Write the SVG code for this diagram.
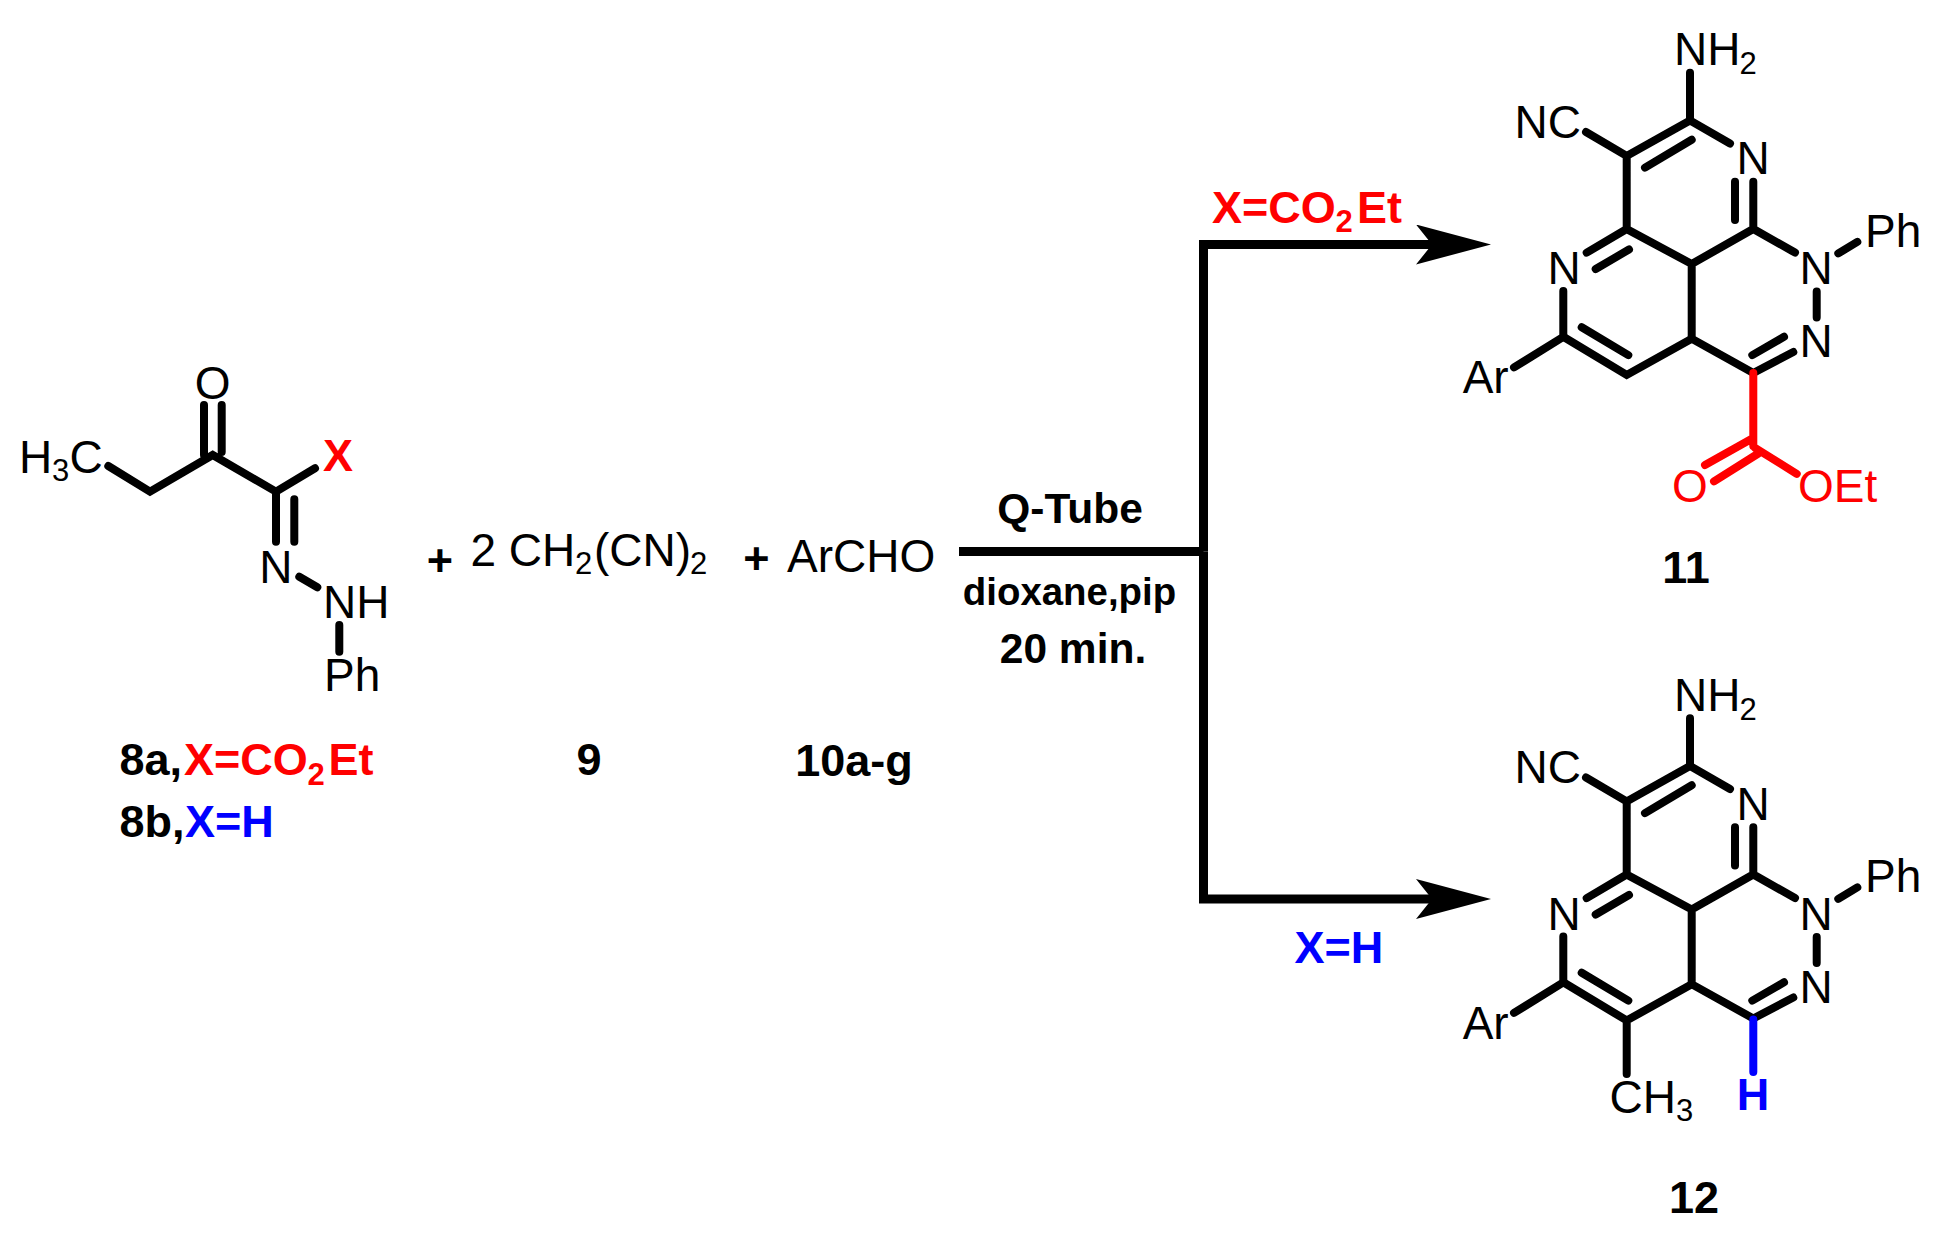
<svg xmlns="http://www.w3.org/2000/svg" width="1934" height="1241" viewBox="0 0 1934 1241">
<style>
text{font-family:"Liberation Sans",Arial,sans-serif;font-size:46px;fill:#000}
.s{font-size:31px}
.bd{font-weight:bold;font-size:45px}
.bs{font-weight:bold;font-size:31px}
.q{font-weight:bold;font-size:42.5px}
.d{font-weight:bold;font-size:38.4px}
.m{text-anchor:middle}
.red{fill:#f00}
.blue{fill:#00f}
.b{stroke:#000;stroke-width:8;stroke-linecap:round;fill:none}
.br{stroke:#f00;stroke-width:8;stroke-linecap:round;fill:none}
.bb{stroke:#00f;stroke-width:8;stroke-linecap:round;fill:none}
.arrow{stroke:#000;stroke-width:9;fill:none;stroke-linejoin:miter}
</style>
<defs>
<marker id="head" markerUnits="userSpaceOnUse" markerWidth="75" markerHeight="40" viewBox="0 0 75 40" refX="16" refY="20" orient="auto"><path d="M0 0L75 20L0 40L16 20Z" fill="#000"/></marker>
<g id="core">
<path class="b" d="M1690 72.7V120.5L1730 143.5M1690 120.5L1626.7 156L1586 132M1626.7 156V229L1691.7 264L1753.3 228.9L1795 252.6M1645 167.6L1691.7 139.7M1753.3 228.9V181.8M1735 181.8V220M1838.3 253.4L1857.3 241.9M1816.7 291.6V317.6M1793.3 352L1753.3 373L1691.7 338.7V264M1784 336.8L1752.3 355.1M1563.3 290.9V336.8M1581.7 327.2L1628.3 355.1M1626.7 229L1586.7 252.6M1629 249.5L1595.7 269M1563.3 336.8L1514 367.4"/>
<text x="1674" y="65">NH</text><text class="s" x="1739.5" y="74">2</text>
<text x="1514.5" y="137.6">NC</text>
<text class="m" x="1753" y="174">N</text>
<text x="1865" y="246.7">Ph</text>
<text class="m" x="1564" y="284">N</text>
<text class="m" x="1816" y="284">N</text>
<text class="m" x="1816" y="357">N</text>
<text x="1462.7" y="393">Ar</text>
</g>
</defs>
<rect width="1934" height="1241" fill="#fff"/>
<g id="connectors">
<path class="arrow" d="M959 551.5H1203.5"/>
<path class="arrow" d="M1203.5 551.5V244.5H1432" marker-end="url(#head)"/>
<path class="arrow" d="M1203.5 551.5V899H1432" marker-end="url(#head)"/>
</g>
<g id="compound-8">
<path class="b" d="M108.3 466L150 491.7L212.7 455L276 491.7L315 468.3M204 405V455M221.7 405V452M276 491.7V541.7M294.3 499.3V541.7M299.3 576.7L317.3 587.3M339.3 625V651.7"/>
<text x="19" y="472.7">H</text><text class="s" x="52" y="480.5">3</text><text x="69.5" y="472.7">C</text>
<text class="m" x="212.7" y="399">O</text>
<text class="bd red m" x="338" y="470.5">X</text>
<text class="m" x="275.8" y="582.7">N</text>
<text x="323" y="618.3">NH</text>
<text x="324" y="691">Ph</text>
<text class="bd" x="119.5" y="775">8a,</text><text class="bd red" x="184" y="775">X=CO</text><text class="bs red" x="307.5" y="785">2</text><text class="bd red" x="328.5" y="775">Et</text>
<text class="bd" x="119.5" y="836.7">8b,</text><text class="bd blue" x="185" y="836.7">X=H</text>
</g>
<g id="plus-1"><text class="bd m" x="440" y="576">+</text></g>
<g id="reagent-9">
<text x="470.5" y="566">2 CH</text><text class="s" x="575" y="574">2</text><text x="594" y="566">(CN)</text><text class="s" x="690" y="574">2</text>
<text class="bd m" x="589" y="774.5">9</text>
</g>
<g id="plus-2"><text class="bd m" x="756.5" y="574">+</text></g>
<g id="reagent-10">
<text x="787" y="572">ArCHO</text>
<text class="bd m" x="854" y="776">10a-g</text>
</g>
<g id="conditions">
<text class="q m" x="1070" y="523">Q-Tube</text>
<text class="d m" x="1069.5" y="604.5">dioxane,pip</text>
<text class="q m" x="1073" y="662.5">20 min.</text>
<text class="bd red" x="1212" y="223">X=CO</text><text class="bs red" x="1335.5" y="232">2</text><text class="bd red" x="1357" y="223">Et</text>
<text class="bd blue" x="1294.5" y="963">X=H</text>
</g>
<g id="product-11">
<use href="#core"/>
<path class="b" d="M1691.7 338.7L1626.7 375L1563.3 336.8"/>
<path class="br" d="M1753.3 373V446M1752.7 438.2L1705 465M1758.3 453.5L1714 481.4M1755 447.8L1796.7 473.8"/>
<text class="red m" x="1690" y="502">O</text>
<text class="red" x="1798" y="502">OEt</text>
<text class="bd m" x="1686" y="582.5">11</text>
</g>
<g id="product-12">
<use href="#core" y="645.5"/>
<path class="b" d="M1691.7 984.2L1626.7 1020.5L1563.3 982.3M1626.7 1020.5V1074"/>
<path class="bb" d="M1753.3 1019.4V1072"/>
<text x="1609.5" y="1112.7">CH</text><text class="s" x="1676" y="1121">3</text>
<text class="bd blue m" x="1753" y="1110">H</text>
<text class="bd m" x="1694" y="1213">12</text>
</g>
</svg>
